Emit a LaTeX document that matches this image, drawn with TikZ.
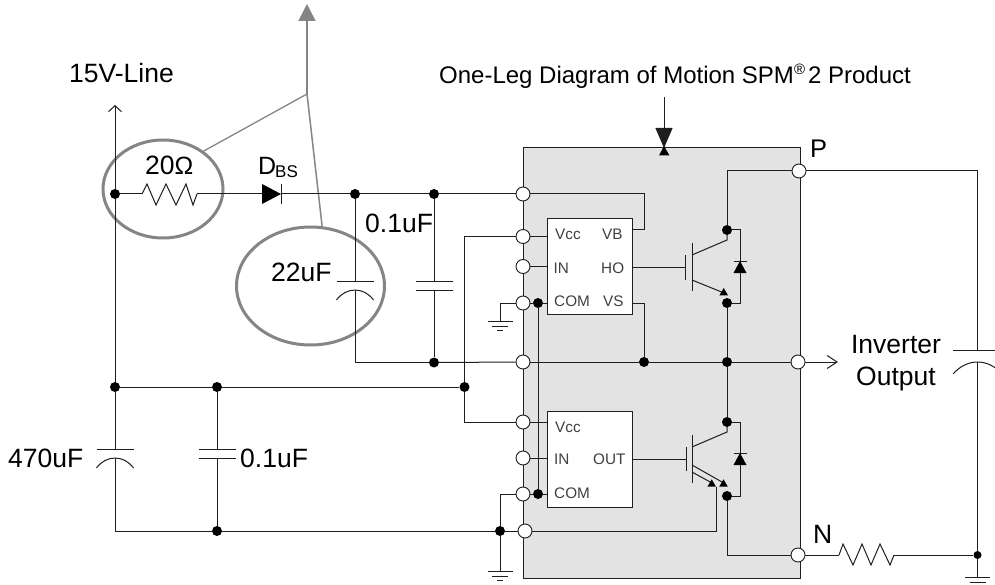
\documentclass[tikz,border=0pt]{standalone}
\usepackage{fontspec}
\setmainfont{Liberation Sans}
\usetikzlibrary{arrows.meta,shapes.geometric,calc}
\definecolor{wirecol}{HTML}{1E1E1E}
\definecolor{boxfill}{HTML}{E3E3E3}
\definecolor{noteg}{HTML}{858585}
\tikzset{
  wire/.style={draw=wirecol,line width=1pt},
  term/.style={circle,draw=wirecol,fill=white,line width=0.9pt,minimum size=14pt,inner sep=0pt},
  jdot/.style={circle,fill=black,minimum size=10pt,inner sep=0pt},
  lbl/.style={anchor=base west,inner sep=0pt,text=black,font=\fontsize{26.5}{29}\selectfont},
  toplbl/.style={anchor=base west,inner sep=0pt,text=black,font=\fontsize{24}{28}\selectfont},
  iclbl/.style={anchor=base west,inner sep=0pt,text=black!75,font=\fontsize{15.3}{17}\selectfont},
  icbox/.style={draw=wirecol,fill=white,line width=1pt,anchor=north west,inner sep=0pt,minimum width=85pt,minimum height=96pt},
  ring/.style={ellipse,draw=noteg,line width=3pt,inner sep=0pt},
  plate/.pic={\draw[wire] (-18.5,0) -- (18.5,0);},
  elec/.pic={\draw[wire] (-18.5,10) .. controls (-9,-3.3) and (9,-3.3) .. (18.5,10);},
  diodeup/.pic={\fill[black] (0,0) -- (-6.5,12) -- (6.5,12) -- cycle; \draw[wire] (-6.5,0) -- (6.5,0);},
  gnd/.pic={\draw[wire] (-12.5,0) -- (12.5,0); \draw[wire] (-8,5) -- (8,5); \draw[wire] (-3,9) -- (3,9);},
  smalltip/.pic={\fill[black] (0,0) -- (-4.3,7.4) -- (4.3,7.4) -- cycle;},
}
\begin{document}
\begin{tikzpicture}[x=1pt,y=-1pt]
\path[use as bounding box,fill=white] (0,0) rectangle (995,585);

% module body
\node[draw=wirecol,fill=boxfill,line width=1pt,anchor=north west,inner sep=0pt,minimum width=277pt,minimum height=431pt] (module) at (523,147) {};
\node[icbox] (ica) at (547,218) {};
\node[icbox] (icb) at (547,411) {};

% highlight rings
\node[ring,minimum width=120pt,minimum height=98pt] (ringr) at (163,189) {};
\node[ring,minimum width=148pt,minimum height=118pt] (ringc) at (310.5,286) {};
\coordinate (hub) at (307,94);
\coordinate (hubtop) at (307,4);
\draw[noteg,line width=1.3pt] (hub) -- (ringr.43);
\draw[noteg,line width=1.5pt] (hub) -- (ringc.79);
\draw[noteg,line width=1.5pt,-{Triangle[length=17pt,width=17pt]}] (hub) -- (hubtop);

% terminals
\node[term] (t1) at (523,194) {};
\node[term] (t2) at (523,236.5) {};
\node[term] (t3) at (523,266.5) {};
\node[term] (t4) at (523,303) {};
\node[term] (t5) at (523,362) {};
\node[term] (t6) at (523,422) {};
\node[term] (t7) at (523,458) {};
\node[term] (t8) at (523,494) {};
\node[term] (t9) at (525,531) {};
\node[term] (tp) at (799,171) {};
\node[term] (to) at (798,362) {};
\node[term] (tn) at (798,555) {};

% junction dots
\node[jdot] (dtop) at (115,194) {};
\node[jdot] (dlow) at (115,387) {};
\node[jdot] (dcm) at (217,387) {};
\node[jdot] (dvcc) at (464.5,387) {};
\node[jdot] (dbot) at (217,531) {};
\node[jdot] (dgnd) at (500,531) {};
\node[jdot] (db1) at (355,194) {};
\node[jdot] (db2) at (434,194) {};
\node[jdot] (db3) at (434,362.5) {};
\node[jdot] (dvs) at (644,362) {};
\node[jdot] (dmid) at (727,362) {};
\node[jdot] (dc1) at (727,230) {};
\node[jdot] (de1) at (727,303) {};
\node[jdot] (dc2) at (727,422) {};
\node[jdot] (de2) at (727,496) {};
\node[jdot] (dcom1) at (538,303) {};
\node[jdot] (dcom2) at (538,494) {};
\node[jdot,minimum size=8pt] (dn) at (977.5,555) {};

% free points
\coordinate (railtop) at (115,105);
\coordinate (railbot) at (115,531);
\coordinate (cap22top) at (355,281);
\coordinate (cap22bot) at (355,290);
\coordinate (corner22) at (355,362.5);
\coordinate (cap01top) at (434,281);
\coordinate (cap01bot) at (434,290);
\coordinate (cap470top) at (115,449);
\coordinate (cap470bot) at (115,458);
\coordinate (cap01btop) at (217,449);
\coordinate (cap01bbot) at (217,458);
\coordinate (capotop) at (977.5,350.5);
\coordinate (capobot) at (977.5,362);
\coordinate (cornerp) at (977.5,171);
\coordinate (outtip) at (838,362);
\coordinate (g1) at (500,321);
\coordinate (g2) at (500,571);
\coordinate (g3) at (977.5,577);

% resistors
\coordinate (r1a) at (142,194);
\coordinate (r1b) at (197,194);
\coordinate (r2a) at (839,555);
\coordinate (r2b) at (894,555);
\draw[wire] (r1a) -- (147,184) -- (156,205) -- (166,184) -- (176,205) -- (186,184) -- (193,205) -- (r1b);
\draw[wire] (r2a) -- (843,544) -- (853,565) -- (862,544) -- (871,565) -- (880,544) -- (890,565) -- (r2b);

% bootstrap diode
\coordinate (dbsa) at (262,194);
\coordinate (dbsk) at (281,194);
\fill[black] (262,184) -- (281,194) -- (262,204) -- cycle;
\draw[wire] (281,184) -- (281,204);

% wires, left side
\draw[wire,-{Straight Barb[length=6pt,width=13pt]}] (dtop) -- (railtop);
\draw[wire] (dtop) -- (r1a);
\draw[wire] (r1b) -- (dbsa);
\draw[wire] (dbsk) -- (db1);
\draw[wire] (db1) -- (db2);
\draw[wire] (db2) -- (t1);
\draw[wire] (dtop) -- (dlow);
\draw[wire] (dlow) -- (dcm);
\draw[wire] (dcm) -- (dvcc);
\draw[wire] (dlow) -- (cap470top);
\draw[wire] (cap470bot) -- (railbot) -- (dbot);
\draw[wire] (dcm) -- (cap01btop);
\draw[wire] (cap01bbot) -- (dbot);
\draw[wire] (dbot) -- (dgnd);
\draw[wire] (dgnd) -- (t9);
\draw[wire] (db1) -- (cap22top);
\draw[wire] (cap22bot) -- (corner22) -- (db3);
\draw[wire] (db2) -- (cap01top);
\draw[wire] (cap01bot) -- (db3);
\draw[wire] (db3) -- (t5);
\draw[wire] (t2) -| (dvcc);
\draw[wire] (dvcc) |- (t6);
\draw[wire] (t4) -| (g1);
\draw[wire] (t8) -| (dgnd);
\draw[wire] (dgnd) -- (g2);

% wires inside the module
\coordinate (vbtop) at (644,194);
\coordinate (vbin) at (632,230);
\coordinate (vsin) at (632,303);
\coordinate (corner1) at (644,303);
\draw[wire] (t1) -- (vbtop) -- (644,230) -- (vbin);
\draw[wire] (vsin) -- (corner1) -- (dvs);
\draw[wire] (t5) -- (dvs);
\draw[wire] (dvs) -- (dmid);
\draw[wire] (dmid) -- (to);
\draw[wire,-{Straight Barb[length=10pt,width=13pt]}] (to) -- (outtip);
\draw[wire] (t2) -- (ica.west |- t2);
\draw[wire] (t3) -- (ica.west |- t3);
\draw[wire] (t4) -- (dcom1);
\draw[wire] (dcom1) -- (ica.west |- dcom1);
\draw[wire] (dcom1) -- (dcom2);
\draw[wire] (t6) -- (icb.west |- t6);
\draw[wire] (t7) -- (icb.west |- t7);
\draw[wire] (t8) -- (dcom2);
\draw[wire] (dcom2) -- (icb.west |- dcom2);

% upper switch
\coordinate (g1a) at (685.5,267);
\coordinate (c1) at (727,240);
\coordinate (e1) at (724,293);
\draw[wire] (ica.east |- g1a) -- (g1a);
\draw[wire] (685.5,255) -- (685.5,280);
\draw[wire] (692,243) -- (692,291);
\draw[wire] (692,255) -- (c1) -- (dc1);
\draw[wire] (692,280) -- (e1);
\pic at (723.7,288) {smalltip};
\draw[wire] (dc1) -- (740,230) -- (740,303) -- (de1);
\pic at (740,261) {diodeup};
\draw[wire] (tp) -| (dc1);
\draw[wire] (de1) -- (dmid);

% lower switch
\coordinate (g2a) at (686,459);
\coordinate (c2) at (727,432);
\coordinate (e2) at (722,482);
\coordinate (sense) at (712,483);
\coordinate (sensedown) at (716,487);
\coordinate (senseout) at (716,531);
\draw[wire] (icb.east |- g2a) -- (g2a);
\draw[wire] (686,447) -- (686,471);
\draw[wire] (692,435) -- (692,483);
\draw[wire] (692,447) -- (c2) -- (dc2);
\draw[wire] (692,465) -- (e2);
\draw[wire] (692,472) -- (sense);
\pic at (723.5,479.3) {smalltip};
\pic at (711.7,479.3) {smalltip};
\draw[wire] (sensedown) -- (senseout) -- (t9);
\draw[wire] (dc2) -- (740,422) -- (740,496) -- (de2);
\pic at (740,453) {diodeup};
\draw[wire] (dmid) -- (dc2);
\draw[wire] (de2) |- (tn);

% right side
\draw[wire] (tp) -- (cornerp) -- (capotop);
\draw[wire] (capobot) -- (dn);
\draw[wire] (dn) -- (g3);
\draw[wire] (tn) -- (r2a);
\draw[wire] (r2b) -- (dn);

% capacitors and grounds
\pic at (cap22top) {plate};
\pic at (cap22bot) {elec};
\pic at (cap01top) {plate};
\pic at (cap01bot) {plate};
\pic at (cap470top) {plate};
\pic at (cap470bot) {elec};
\pic at (cap01btop) {plate};
\pic at (cap01bbot) {plate};
\draw[wire] (953,350.5) -- (1002,350.5);
\draw[wire] (953,374) .. controls (967,358) and (988,358) .. (1002,374);
\pic at (g1) {gnd};
\pic at (g2) {gnd};
\pic at (g3) {gnd};

% pointer onto the module
\coordinate (ptop) at (664,97);
\coordinate (ptip) at (664,148);
\draw[wire,-{Triangle[length=20pt,width=17pt]}] (ptop) -- (ptip);
\fill[black] (664,146) -- (659,155.5) -- (669.5,155.5) -- cycle;

% labels
\node[lbl] (l15) at (69,83) {15V-Line};
\node[lbl] (l20) at (145,175) {20{\fontsize{25}{25}\selectfont Ω}};
\node[lbl,font=\fontsize{25}{28}\selectfont] (ldbs) at (258,175) {D};
\node[anchor=base west,inner sep=0pt,font=\fontsize{17}{20}\selectfont] (lbs) at (275,178) {BS};
\node[lbl] (l22) at (271,281) {22uF};
\node[lbl] (l01a) at (365,233) {0.1uF};
\node[lbl] (l470) at (8,467) {470uF};
\node[lbl] (l01b) at (240,467) {0.1uF};
\node[toplbl] (ltitle) at (439,84) {One-Leg Diagram of Motion SPM{\raisebox{9pt}{\fontsize{15}{15}\selectfont ®}}\kern3pt 2 Product};
\node[lbl,font=\fontsize{25.5}{28}\selectfont] (lp) at (810,158) {P};
\node[lbl] (ln) at (813,543) {N};
\node[lbl,anchor=base] (linv) at (896,353) {Inverter};
\node[lbl,anchor=base] (lout) at (896,385) {Output};

\node[iclbl] (v1) at (555,240) {Vcc};
\node[iclbl] (vb) at (602,240) {VB};
\node[iclbl] (in1) at (553.5,273) {IN};
\node[iclbl] (ho) at (601,273) {HO};
\node[iclbl] (com1) at (554,306) {COM};
\node[iclbl] (vs) at (603,306) {VS};
\node[iclbl] (v2) at (555,432) {Vcc};
\node[iclbl] (in2) at (554,464) {IN};
\node[iclbl] (outl) at (593,464) {OUT};
\node[iclbl] (com2) at (554,498) {COM};
\end{tikzpicture}
\end{document}
